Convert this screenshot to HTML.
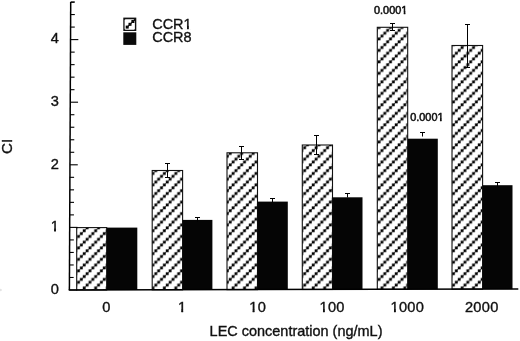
<!DOCTYPE html>
<html><head><meta charset="utf-8"><title>LEC concentration chart</title>
<style>html,body{margin:0;padding:0;background:#fff;overflow:hidden}svg{display:block}text{font-family:"Liberation Sans",Arial,Helvetica,sans-serif;fill:#111}</style></head><body>
<svg width="520" height="341" viewBox="0 0 520 341">
<rect width="520" height="341" fill="#fff"/>
<defs><pattern id="h" patternUnits="userSpaceOnUse" width="11.450" height="11.450">
<rect width="11.450" height="11.450" fill="#fff"/>
<line x1="-3.650" y1="-2.000" x2="-2.000" y2="-3.650" stroke="#444" stroke-width="0.8"/>
<line x1="7.800" y1="-2.000" x2="-2.000" y2="7.800" stroke="#444" stroke-width="0.8"/>
<line x1="19.250" y1="-2.000" x2="-2.000" y2="19.250" stroke="#444" stroke-width="0.8"/>
<rect x="-3.062" y="6.062" width="2.8" height="2.8" fill="#000"/>
<rect x="-0.200" y="3.200" width="2.8" height="2.8" fill="#000"/>
<rect x="2.663" y="0.337" width="2.8" height="2.8" fill="#000"/>
<rect x="2.663" y="11.787" width="2.8" height="2.8" fill="#000"/>
<rect x="5.525" y="-2.525" width="2.8" height="2.8" fill="#000"/>
<rect x="5.525" y="8.925" width="2.8" height="2.8" fill="#000"/>
<rect x="8.387" y="6.063" width="2.8" height="2.8" fill="#000"/>
<rect x="11.250" y="3.200" width="2.8" height="2.8" fill="#000"/>
</pattern></defs>
<rect x="76.70" y="227.60" width="30.00" height="62.39" fill="url(#h)" stroke="#111" stroke-width="1.1"/>
<rect x="106.70" y="227.60" width="30.60" height="62.39" fill="#050505"/>
<rect x="152.20" y="170.50" width="30.40" height="119.32" fill="url(#h)" stroke="#111" stroke-width="1.1"/>
<rect x="182.60" y="219.90" width="29.80" height="69.92" fill="#050505"/>
<rect x="227.00" y="152.80" width="30.50" height="136.85" fill="url(#h)" stroke="#111" stroke-width="1.1"/>
<rect x="257.50" y="201.60" width="30.30" height="88.05" fill="#050505"/>
<rect x="302.30" y="145.00" width="30.20" height="144.48" fill="url(#h)" stroke="#111" stroke-width="1.1"/>
<rect x="332.50" y="197.30" width="30.00" height="92.18" fill="#050505"/>
<rect x="377.30" y="27.30" width="30.40" height="262.01" fill="url(#h)" stroke="#111" stroke-width="1.1"/>
<rect x="407.70" y="138.70" width="30.10" height="150.61" fill="#050505"/>
<rect x="452.00" y="45.50" width="30.60" height="243.65" fill="url(#h)" stroke="#111" stroke-width="1.1"/>
<rect x="482.60" y="185.20" width="29.90" height="103.95" fill="#050505"/>
<g stroke="#000" stroke-width="1" fill="none">
<path d="M167.50 163.50 V177.50 M165.00 163.50 H170.00 M165.00 177.50 H170.00"/>
</g>
<g stroke="#000" stroke-width="1" fill="none">
<path d="M197.50 217.50 V221.50 M195.00 217.50 H200.00"/>
</g>
<g stroke="#000" stroke-width="1" fill="none">
<path d="M241.50 146.50 V159.50 M239.00 146.50 H244.00 M239.00 159.50 H244.00"/>
</g>
<g stroke="#000" stroke-width="1" fill="none">
<path d="M272.50 198.50 V202.50 M270.00 198.50 H275.00"/>
</g>
<g stroke="#000" stroke-width="1" fill="none">
<path d="M316.50 135.50 V154.50 M314.00 135.50 H319.00 M314.00 154.50 H319.00"/>
</g>
<g stroke="#000" stroke-width="1" fill="none">
<path d="M347.50 193.50 V197.50 M345.00 193.50 H350.00"/>
</g>
<g stroke="#000" stroke-width="1" fill="none">
<path d="M392.50 23.50 V30.50 M390.00 23.50 H395.00 M390.00 30.50 H395.00"/>
</g>
<g stroke="#000" stroke-width="1" fill="none">
<path d="M422.50 132.50 V136.50 M420.00 132.50 H425.00"/>
</g>
<g stroke="#000" stroke-width="1" fill="none">
<path d="M467.50 24.50 V67.50 M465.00 24.50 H470.00 M465.00 67.50 H470.00"/>
</g>
<g stroke="#000" stroke-width="1" fill="none">
<path d="M497.50 182.50 V186.50 M495.00 182.50 H500.00"/>
</g>
<g stroke="#000" fill="none">
<path d="M70.7 2 L69.4 290" stroke-width="1.5"/>
<path d="M68.7 290 L518.3 289" stroke-width="1.5"/>
<path d="M69.40 290.00 h7.80" stroke-width="1.1"/>
<path d="M69.46 277.48 h4.20" stroke-width="1.1"/>
<path d="M69.51 264.96 h4.20" stroke-width="1.1"/>
<path d="M69.57 252.44 h4.20" stroke-width="1.1"/>
<path d="M69.63 239.92 h4.20" stroke-width="1.1"/>
<path d="M69.68 227.40 h7.80" stroke-width="1.1"/>
<path d="M69.74 214.88 h4.20" stroke-width="1.1"/>
<path d="M69.80 202.36 h4.20" stroke-width="1.1"/>
<path d="M69.85 189.84 h4.20" stroke-width="1.1"/>
<path d="M69.91 177.32 h4.20" stroke-width="1.1"/>
<path d="M69.97 164.80 h7.80" stroke-width="1.1"/>
<path d="M70.02 152.28 h4.20" stroke-width="1.1"/>
<path d="M70.08 139.76 h4.20" stroke-width="1.1"/>
<path d="M70.13 127.24 h4.20" stroke-width="1.1"/>
<path d="M70.19 114.72 h4.20" stroke-width="1.1"/>
<path d="M70.25 102.20 h7.80" stroke-width="1.1"/>
<path d="M70.30 89.68 h4.20" stroke-width="1.1"/>
<path d="M70.36 77.16 h4.20" stroke-width="1.1"/>
<path d="M70.42 64.64 h4.20" stroke-width="1.1"/>
<path d="M70.47 52.12 h4.20" stroke-width="1.1"/>
<path d="M70.53 39.60 h7.80" stroke-width="1.1"/>
<path d="M70.59 27.08 h4.20" stroke-width="1.1"/>
<path d="M70.64 14.56 h4.20" stroke-width="1.1"/>
<path d="M70.70 2.04 h4.20" stroke-width="1.1"/>
<path d="M70.7 2.2 h3.6" stroke-width="1.1"/>
</g>
<g>
<rect x="123.3" y="17.6" width="13" height="13.4" fill="#111"/>
<rect x="124.6" y="19.3" width="10.3" height="10.4" rx="1.2" fill="#fff"/>
<rect x="125.70" y="25.60" width="3" height="3" fill="#000"/>
<rect x="128.50" y="22.80" width="3" height="3" fill="#000"/>
<rect x="131.40" y="20.00" width="3" height="3" fill="#000"/>
<path d="M127.2 27.1 L135 19.3" stroke="#111" stroke-width="1.2"/>
<rect x="133.9" y="19.0" width="1.5" height="2.0" fill="#111"/>
<rect x="123.3" y="32.3" width="13" height="12.6" fill="#0a0a0a"/>
</g>
<circle cx="0.6" cy="290" r="1.2" fill="#e4e4e4"/>
<g transform="translate(152.20 28.50) scale(1.050 1)">
<text x="0.00" y="0" font-size="13.80" stroke="#111" stroke-width="0.35">CCR1</text>
<rect x="29.60" y="-2.11" width="3.54" height="3.46" fill="#fff"/>
<rect x="34.81" y="-2.11" width="3.49" height="3.46" fill="#fff"/>
<rect x="33.19" y="-2.61" width="1.57" height="2.78" fill="#111"/>
</g>
<g transform="translate(152.20 42.20) scale(1.050 1)">
<text x="0.00" y="0" font-size="13.80" stroke="#111" stroke-width="0.35">CCR8</text>
</g>
<g transform="translate(50.70 43.40) scale(1.060 1)">
<text x="0.00" y="0" font-size="13.80" stroke="#111" stroke-width="0.35">4</text>
</g>
<g transform="translate(50.70 106.00) scale(1.060 1)">
<text x="0.00" y="0" font-size="13.80" stroke="#111" stroke-width="0.35">3</text>
</g>
<g transform="translate(50.70 168.60) scale(1.060 1)">
<text x="0.00" y="0" font-size="13.80" stroke="#111" stroke-width="0.35">2</text>
</g>
<g transform="translate(50.70 231.20) scale(1.060 1)">
<text x="0.00" y="0" font-size="13.80" stroke="#111" stroke-width="0.35">1</text>
<rect x="-0.30" y="-2.11" width="3.54" height="3.46" fill="#fff"/>
<rect x="4.91" y="-2.11" width="3.49" height="3.46" fill="#fff"/>
<rect x="3.30" y="-2.61" width="1.57" height="2.78" fill="#111"/>
</g>
<g transform="translate(50.70 293.80) scale(1.060 1)">
<text x="0.00" y="0" font-size="13.80" stroke="#111" stroke-width="0.35">0</text>
</g>
<g transform="translate(106.40 311.80) scale(1.060 1)">
<text x="-3.84" y="0" font-size="13.80" stroke="#111" stroke-width="0.35" letter-spacing="0.25">0</text>
</g>
<g transform="translate(182.00 311.80) scale(1.060 1)">
<text x="-3.84" y="0" font-size="13.80" stroke="#111" stroke-width="0.35" letter-spacing="0.25">1</text>
<rect x="-4.14" y="-2.11" width="3.54" height="3.46" fill="#fff"/>
<rect x="1.08" y="-2.11" width="3.49" height="3.46" fill="#fff"/>
<rect x="-0.54" y="-2.61" width="1.57" height="2.78" fill="#111"/>
</g>
<g transform="translate(257.50 311.80) scale(1.060 1)">
<text x="-7.80" y="0" font-size="13.80" stroke="#111" stroke-width="0.35" letter-spacing="0.25">10</text>
<rect x="-8.10" y="-2.11" width="3.54" height="3.46" fill="#fff"/>
<rect x="-2.89" y="-2.11" width="3.49" height="3.46" fill="#fff"/>
<rect x="-4.50" y="-2.61" width="1.57" height="2.78" fill="#111"/>
</g>
<g transform="translate(332.00 311.80) scale(1.060 1)">
<text x="-11.76" y="0" font-size="13.80" stroke="#111" stroke-width="0.35" letter-spacing="0.25">100</text>
<rect x="-12.06" y="-2.11" width="3.54" height="3.46" fill="#fff"/>
<rect x="-6.85" y="-2.11" width="3.49" height="3.46" fill="#fff"/>
<rect x="-8.47" y="-2.61" width="1.57" height="2.78" fill="#111"/>
</g>
<g transform="translate(407.20 311.80) scale(1.060 1)">
<text x="-15.72" y="0" font-size="13.80" stroke="#111" stroke-width="0.35" letter-spacing="0.25">1000</text>
<rect x="-16.02" y="-2.11" width="3.54" height="3.46" fill="#fff"/>
<rect x="-10.81" y="-2.11" width="3.49" height="3.46" fill="#fff"/>
<rect x="-12.43" y="-2.61" width="1.57" height="2.78" fill="#111"/>
</g>
<g transform="translate(481.60 311.80) scale(1.060 1)">
<text x="-15.72" y="0" font-size="13.80" stroke="#111" stroke-width="0.35" letter-spacing="0.25">2000</text>
</g>
<g transform="translate(209.60 335.80) scale(1.050 1)">
<text x="0.00" y="0" font-size="13.80" stroke="#111" stroke-width="0.35">LEC concentration (ng/mL)</text>
</g>
<g transform="translate(410.20 120.70) scale(1.050 1)">
<text x="0.00" y="0" font-size="10.40" stroke="#111" stroke-width="0.50">0.0001</text>
<rect x="25.32" y="-1.93" width="3.02" height="3.43" fill="#fff"/>
<rect x="29.86" y="-1.93" width="2.99" height="3.43" fill="#fff"/>
<rect x="28.39" y="-2.43" width="1.42" height="2.68" fill="#111"/>
</g>
<g transform="translate(374.00 13.50) scale(1.050 1)">
<text x="0.00" y="0" font-size="10.40" stroke="#111" stroke-width="0.50">0.0001</text>
<rect x="25.32" y="-1.93" width="3.02" height="3.43" fill="#fff"/>
<rect x="29.86" y="-1.93" width="2.99" height="3.43" fill="#fff"/>
<rect x="28.39" y="-2.43" width="1.42" height="2.68" fill="#111"/>
</g>
<g transform="translate(12.30 154.00) rotate(-90) scale(1.100 1)">
<text x="0.00" y="0" font-size="13.80" stroke="#111" stroke-width="0.35">CI</text>
</g>
</svg></body></html>
